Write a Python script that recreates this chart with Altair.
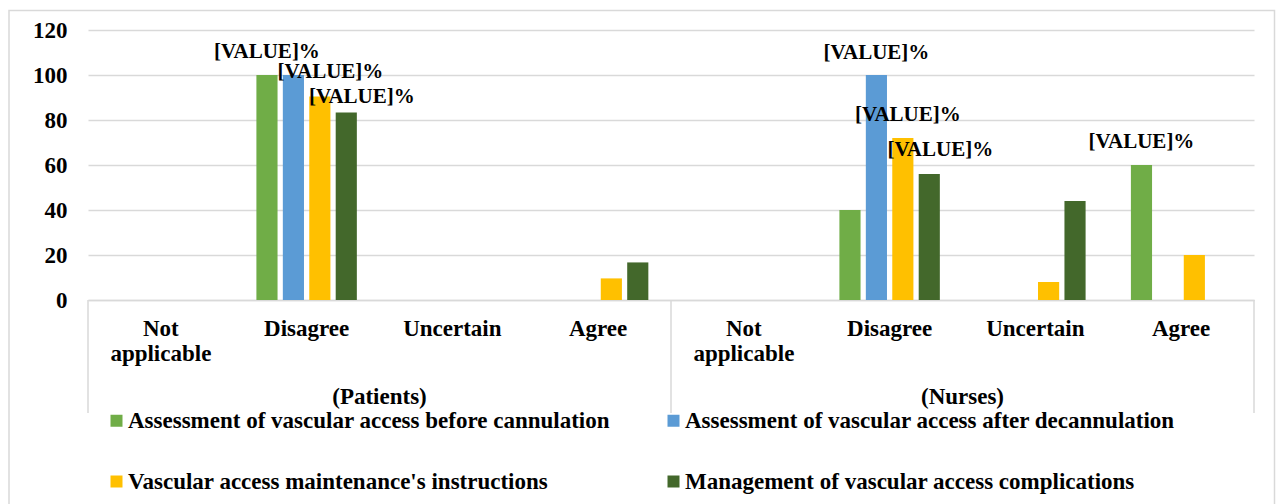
import altair as alt
import pandas as pd

groups = ["Patients", "Nurses"]
categories = ["Not applicable", "Disagree", "Uncertain", "Agree"]
series = [
    "Assessment of vascular access before cannulation",
    "Assessment of vascular access after decannulation",
    "Vascular access maintenance's instructions",
    "Management of vascular access complications",
]
colors = ["#70AD47", "#5B9BD5", "#FFC000", "#43682B"]

# values per series: Patients (4 categories), then Nurses (4 categories)
before_cannulation = [0, 100, 0, 0, 0, 40, 0, 60]
after_decannulation = [0, 100, 0, 0, 0, 100, 0, 0]
maintenance_instr = [0, 90.4, 0, 9.6, 0, 72, 8, 20]
complications_mgmt = [0, 83.3, 0, 16.7, 0, 56, 44, 0]
series_values = [before_cannulation, after_decannulation, maintenance_instr, complications_mgmt]

y_ticks = [0, 20, 40, 60, 80, 100, 120]
label_text = "[VALUE]%"

keys = [f"{g}|{c}" for g in groups for c in categories]

rows = []
for s, vals in zip(series, series_values):
    for k, v in zip(keys, vals):
        if v > 0:
            rows.append({"key": k, "series": s, "value": v})
df = pd.DataFrame(rows)

FONT = "Liberation Serif"

x_scale = alt.Scale(domain=keys, paddingInner=0, paddingOuter=0)
off_scale = alt.Scale(domain=series, paddingInner=0.2, paddingOuter=0.857)
y_scale = alt.Scale(domain=[0, 120], nice=False)

base_x = alt.X(
    "key:N",
    scale=x_scale,
    sort=keys,
    axis=alt.Axis(
        title=None,
        ticks=False,
        domain=True,
        domainColor="#d9d9d9",
        domainWidth=1.5,
        labelAngle=0,
        labelExpr="split(split(datum.value, '|')[1], ' ')",
        labelFont=FONT,
        labelFontWeight="bold",
        labelFontSize=23,
        labelColor="#000000",
        labelPadding=17,
        labelLineHeight=25,
        grid=False,
    ),
)

bars = alt.Chart(df).mark_bar().encode(
    x=base_x,
    xOffset=alt.XOffset("series:N", scale=off_scale, sort=series),
    y=alt.Y(
        "value:Q",
        scale=y_scale,
        axis=alt.Axis(
            title=None,
            values=y_ticks,
            ticks=False,
            domain=False,
            grid=True,
            gridColor="#d9d9d9",
            gridWidth=1.5,
            labelFont=FONT,
            labelFontWeight="bold",
            labelFontSize=23,
            labelColor="#000000",
            labelPadding=21,
        ),
    ),
    color=alt.Color(
        "series:N",
        scale=alt.Scale(domain=series, range=colors),
        sort=series,
        legend=alt.Legend(
            title=None,
            orient="none",
            direction="horizontal",
            legendX=17,
            legendY=379,
            columns=2,
            columnPadding=52,
            rowPadding=37,
            symbolType="square",
            symbolSize=144,
            symbolStrokeWidth=0,
            labelFont=FONT,
            labelFontWeight="bold",
            labelFontSize=23,
            labelColor="#000000",
            labelOffset=0,
            labelLimit=0,
            padding=0,
        ),
    ),
)

# data labels (only the ones shown in the reference)
label_specs = [
    ("Patients|Disagree", series[0], 0, -23),
    ("Patients|Disagree", series[1], 37, -3),
    ("Patients|Disagree", series[2], 42, 0),
    ("Nurses|Disagree", series[1], 0, -22),
    ("Nurses|Disagree", series[2], 5, -23),
    ("Nurses|Disagree", series[3], 11, -24),
    ("Nurses|Agree", series[0], 0, -23),
]
label_layers = []
for k, s, ddx, ddy in label_specs:
    label_layers.append(
        alt.Chart(df)
        .transform_filter((alt.datum.key == k) & (alt.datum.series == s))
        .mark_text(
            font=FONT, fontWeight="bold", fontSize=21, color="#000000",
            align="center", baseline="middle", dx=ddx, dy=ddy,
        )
        .encode(
            x=alt.X("key:N", scale=x_scale, sort=keys),
            xOffset=alt.XOffset("series:N", scale=off_scale, sort=series),
            y=alt.Y("value:Q", scale=y_scale),
            text=alt.value(label_text),
        )
    )

# group labels centred under each group of four categories
gdf = pd.DataFrame({"gkey": [f"{g}|{categories[2]}" for g in groups],
                    "glabel": [f"({g})" for g in groups]})
group_labels = alt.Chart(gdf).mark_text(
    font=FONT, fontWeight="bold", fontSize=23, color="#000000",
    align="center", baseline="middle",
).encode(
    x=alt.X("gkey:N", scale=x_scale, sort=keys, bandPosition=0),
    y=alt.value(367),
    text="glabel:N",
)

# multi-level category separators
left_edges = pd.DataFrame({"k": [f"{g}|{categories[0]}" for g in groups]})
right_edge = pd.DataFrame({"k": [f"{groups[-1]}|{categories[-1]}"]})
sep_left = alt.Chart(left_edges).mark_rule(color="#d9d9d9", strokeWidth=1.5).encode(
    x=alt.X("k:N", scale=x_scale, sort=keys, bandPosition=0),
    y=alt.value(270), y2=alt.value(383),
)
sep_right = alt.Chart(right_edge).mark_rule(color="#d9d9d9", strokeWidth=1.5).encode(
    x=alt.X("k:N", scale=x_scale, sort=keys, bandPosition=1),
    y=alt.value(270), y2=alt.value(383),
)

frame = alt.Chart(pd.DataFrame({"a": [0]})).mark_rect(
    fill="transparent", stroke="#d9d9d9", strokeWidth=1.5
).encode(
    x=alt.value(-79), x2=alt.value(1186.5), y=alt.value(-19.5), y2=alt.value(480),
)

chart = alt.layer(
    frame, bars, sep_left, sep_right, group_labels, *label_layers
).properties(
    width=1166,
    height=270,
    background="white",
    autosize=alt.AutoSizeParams(type="none"),
    padding={"left": 80, "top": 22, "right": 22, "bottom": 204},
).configure_view(stroke=None)

chart.save("out.html", embed_options={"renderer": "svg", "actions": False})
